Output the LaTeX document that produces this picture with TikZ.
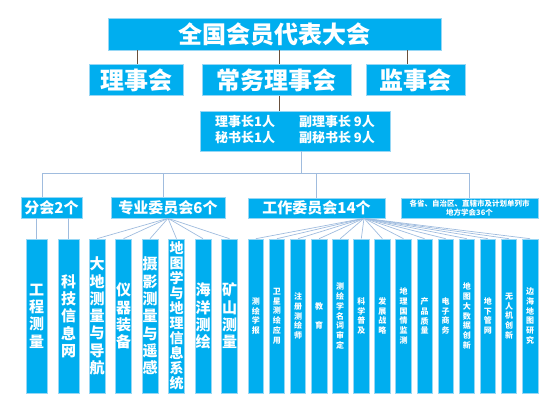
\documentclass[tikz,border=0pt]{standalone}
\usepackage{fontspec}
\newfontfamily\cjk{Noto Sans CJK SC}
\usetikzlibrary{positioning,calc}
\definecolor{boxblue}{RGB}{0,174,239}
\definecolor{boxedge}{RGB}{150,215,245}
\definecolor{linebrown}{RGB}{105,80,60}
\definecolor{lineblue}{RGB}{160,188,222}
\def\colstackA#1{\ifx\relax#1\else\hbox to 1em{\hss#1\hss}\expandafter\colstackA\fi}
\newcommand\colstack[2]{\vbox{\baselineskip=#1\lineskip=0pt\lineskiplimit=-100pt\expandafter\colstackA#2\relax}}

\begin{document}
\begin{tikzpicture}[x=1pt,y=-1pt,
  box/.style={fill=boxblue,draw=boxedge,line width=0.6pt,text=white,inner sep=0pt},
  biglabel/.style={box,minimum height=31pt,font=\cjk\bfseries\fontsize{24pt}{26pt}\selectfont},
  midlabel/.style={box,minimum height=21pt,font=\cjk\bfseries\fontsize{15pt}{17pt}\selectfont},
  colbox/.style={box,minimum height=154pt},
  topline/.style={draw=linebrown,line width=0.9pt},
  fanline/.style={draw=lineblue,line width=0.7pt}]
\useasboundingbox (0,0) rectangle (558,419);

\node[biglabel,minimum width=333pt,minimum height=32pt] (congress) at (274.5,34) {全国会员代表大会};
\node[biglabel,minimum width=94pt] (council) at (136,80) {理事会};
\node[biglabel,minimum width=149pt] (standing) at (276.5,80) {常务理事会};
\node[biglabel,minimum width=99pt] (supervisors) at (415.5,80) {监事会};
\draw[topline] ([xshift=1pt]council.north) -- ([xshift=1pt]council.north |- congress.south);
\draw[topline] ([xshift=2.5pt]standing.north) -- ([xshift=2.5pt]standing.north |- congress.south);
\draw[topline] ([xshift=-8.5pt]supervisors.north) -- ([xshift=-8.5pt]supervisors.north |- congress.south);

\node[box,minimum width=190pt,minimum height=40pt,font=\cjk\bfseries\fontsize{13pt}{16pt}\selectfont] (leaders) at (295,131)
  {\begin{tabular}{@{}l@{\hspace{24pt}}l@{}}理事长1人 & 副理事长 9人\\秘书长1人 & 副秘书长 9人\end{tabular}};
\draw[topline] ([xshift=2.5pt]standing.south) -- ([xshift=2.5pt]standing.south |- leaders.north);

\node[midlabel,minimum width=61pt] (branches) at (51.5,207.5) {分会2个};
\node[midlabel,minimum width=114pt] (special) at (168,207.5) {专业委员会6个};
\node[midlabel,minimum width=137pt,minimum height=20pt] (working) at (316.5,208) {工作委员会14个};
\node[box,minimum width=137pt,minimum height=20pt,align=center,font=\cjk\bfseries\fontsize{7.5pt}{9pt}\selectfont] (local) at (469.5,208)
  {各省、自治区、直辖市及计划单列市\\地方学会36个};

\coordinate (bus) at (301,173);
\draw[fanline] (bus |- leaders.south) -- (bus);
\draw[fanline] ([xshift=-9.5pt]branches.north) |- (bus);
\draw[fanline] ([xshift=-5pt]special.north) -- ([xshift=-5pt]special.north |- bus);
\draw[fanline] (working.north) -- (working.north |- bus);
\draw[fanline] (local.north) |- (bus);

\foreach \x/\name [count=\i] in {36.5/工程测量,68.5/科技信息网} {
  \node[colbox,minimum width=21pt,font=\cjk\bfseries\fontsize{15pt}{17pt}\selectfont] (b\i) at (\x,316) {\colstack{17.3pt}{\name}};
  \draw[fanline] (b\i.north) -- (b\i.north |- branches.south);
}
\foreach \x/\name/\s/\p [count=\i] in {97/大地测量与导航/15/17.3,123.5/仪器装备/15/17.3,150/摄影测量与遥感/15/17.3,
    176.5/地图学与地理信息系统/14/15,203/海洋测绘/15/17.3,229.5/矿山测量/15/17.3} {
  \node[colbox,minimum width=16pt,font=\cjk\bfseries\fontsize{\s pt}{\p pt}\selectfont] (s\i) at (\x,316) {\colstack{\p pt}{\name}};
  \draw[fanline] (special.south) -- (s\i.north);
}
\foreach \name [count=\i] in {测绘学报,卫星测绘应用,注册测绘师,教~育,测绘学名词审定,科学普及,发展战略,
    地理国情监测,产品质量,电子商务,地图大数据创新,地下管网,无人机创新,边海地图研究} {
  \node[colbox,minimum width=15.5pt,font=\cjk\bfseries\fontsize{8pt}{10pt}\selectfont] (w\i) at ({255.8+21.1*(\i-1)},316) {\colstack{9.8pt}{\name}};
  \draw[fanline] ([xshift=47.5pt]working.south) -- (w\i.north);
}
\end{tikzpicture}
\end{document}
